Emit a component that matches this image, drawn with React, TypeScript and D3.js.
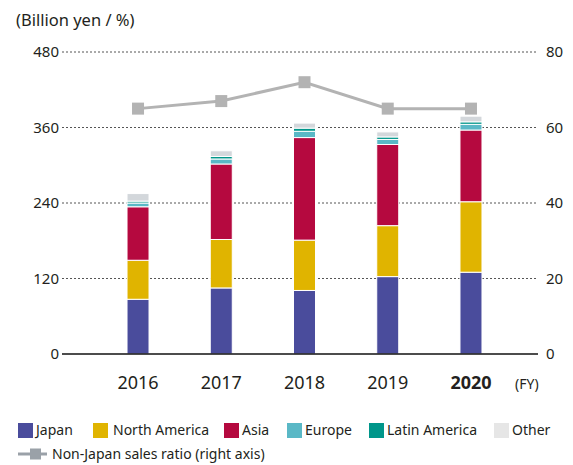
import React from "react";
import * as d3 from "d3";

const years = ["2016", "2017", "2018", "2019", "2020"];
const japan = [87, 105, 101, 123, 130];
const northAmerica = [62, 77, 80, 81, 112];
const asia = [85, 120, 163, 129, 114];
const europe = [6, 8, 10, 8, 9];
const latinAmerica = [3, 4, 5, 4, 4];
const other = [12, 9, 8, 8, 9];
const nonJapanRatio = [65, 67, 72, 65, 65];
const leftTicks = [0, 120, 240, 360, 480];
const rightTicks = [0, 20, 40, 60, 80];

const seriesNames = ["Japan", "North America", "Asia", "Europe", "Latin America", "Other"];
const seriesValues = [japan, northAmerica, asia, europe, latinAmerica, other];
const colors = ["#4a4c9c", "#e0b400", "#b5093f", "#5ab8c6", "#00968a", "#d3d7db"];
const legendColors = ["#4a4c9c", "#e0b400", "#b5093f", "#5ab8c6", "#00968a", "#e6e6e6"];

const W = 573;
const H = 465;
const FONT = "'Noto Sans', sans-serif";
const TEXT = "#231f20";

export default function App() {
  const x = d3
    .scaleBand<string>()
    .domain(years)
    .range([96.4, 512.6])
    .paddingInner(0.7357)
    .paddingOuter(0.3679);
  const yL = d3.scaleLinear().domain([0, 480]).range([354, 52]);
  const yR = d3.scaleLinear().domain([0, 80]).range([354, 52]);

  const table = years.map((yr, i) => {
    const row: any = { year: yr };
    seriesNames.forEach((n, k) => (row[n] = seriesValues[k][i]));
    return row;
  });
  const stacked = d3.stack<any>().keys(seriesNames)(table);

  const line = d3
    .line<number>()
    .x((_, i) => (x(years[i]) as number) + x.bandwidth() / 2)
    .y((d) => yR(d));

  const legendItems = [
    { sq: 18, tx: 36 },
    { sq: 93, tx: 113 },
    { sq: 224, tx: 242 },
    { sq: 287, tx: 305 },
    { sq: 369, tx: 387 },
    { sq: 494, tx: 512 },
  ];

  return (
    <svg
      width={W}
      height={H}
      style={{ position: "absolute", left: 0, top: 0, background: "#fff" }}
      fontFamily={FONT}
    >
      <text x={16} y={26} fontSize={16.5} fill={TEXT}>
        (Billion yen / %)
      </text>

      {leftTicks.map((t) =>
        t === 0 ? null : (
          <line
            key={"g" + t}
            x1={62}
            x2={538}
            y1={yL(t)}
            y2={yL(t)}
            stroke="#555"
            strokeWidth={1}
            strokeDasharray="2,2"
          />
        )
      )}

      {leftTicks.map((t) => (
        <text key={"l" + t} x={59} y={yL(t)} dy="0.35em" textAnchor="end" fontSize={15} fill={TEXT}>
          {t}
        </text>
      ))}
      {rightTicks.map((t) => (
        <text key={"r" + t} x={546} y={yR(t)} dy="0.35em" textAnchor="start" fontSize={15} fill={TEXT}>
          {t}
        </text>
      ))}

      {stacked.map((s, k) => (
        <g key={s.key} fill={colors[k]}>
          {s.map((d, i) => (
            <rect
              key={i}
              x={x(years[i])}
              width={x.bandwidth()}
              y={yL(d[1])}
              height={yL(d[0]) - yL(d[1])}
              stroke="#fff"
              strokeWidth={1}
            />
          ))}
        </g>
      ))}

      <line x1={62} x2={538} y1={354} y2={354} stroke="#111" strokeWidth={1.5} />

      <path d={line(nonJapanRatio) || ""} fill="none" stroke="#b3b3b3" strokeWidth={3} />
      {nonJapanRatio.map((v, i) => (
        <rect
          key={"m" + i}
          x={(x(years[i]) as number) + x.bandwidth() / 2 - 6}
          y={yR(v) - 6}
          width={12}
          height={12}
          fill="#b3b3b3"
        />
      ))}

      {years.map((yr, i) => (
        <text
          key={"x" + yr}
          x={(x(yr) as number) + x.bandwidth() / 2}
          y={383}
          dy="0.35em"
          textAnchor="middle"
          fontSize={18}
          fontWeight={i === years.length - 1 ? "bold" : "normal"}
          fill={TEXT}
        >
          {yr}
        </text>
      ))}
      <text x={515} y={384} dy="0.35em" fontSize={14} fill={TEXT}>
        (FY)
      </text>

      {seriesNames.map((n, k) => (
        <g key={"lg" + n}>
          <rect x={legendItems[k].sq} y={423} width={15} height={15} fill={legendColors[k]} />
          <text x={legendItems[k].tx} y={430.5} dy="0.35em" fontSize={14} fill={TEXT}>
            {n}
          </text>
        </g>
      ))}
      <line x1={18} x2={47} y1={454} y2={454} stroke="#9aa1a8" strokeWidth={3} />
      <rect x={30} y={448.5} width={11} height={11} fill="#9aa1a8" />
      <text x={52} y={454} dy="0.35em" fontSize={14} fill={TEXT}>
        Non-Japan sales ratio (right axis)
      </text>
    </svg>
  );
}
